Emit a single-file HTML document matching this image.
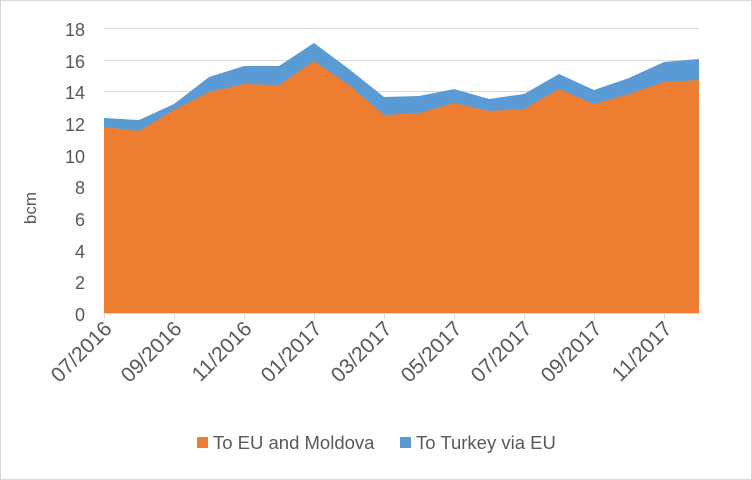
<!DOCTYPE html>
<html><head><style>
html,body{margin:0;padding:0;background:#fff}
svg{display:block}
text{font-family:"Liberation Sans",sans-serif;fill:#595959}
</style></head><body>
<svg width="752" height="480" viewBox="0 0 752 480">
<rect x="0.5" y="0.5" width="751" height="479" fill="#fff" stroke="#D9D9D9"/>
<g stroke="#D9D9D9" stroke-width="1">
<line x1="104" x2="699" y1="28.5" y2="28.5"/>
<line x1="104" x2="699" y1="60.5" y2="60.5"/>
<line x1="104" x2="699" y1="91.5" y2="91.5"/>
<line x1="104" x2="699" y1="123.5" y2="123.5"/>
<line x1="104" x2="699" y1="155.5" y2="155.5"/>
<line x1="104" x2="699" y1="186.5" y2="186.5"/>
<line x1="104" x2="699" y1="218.5" y2="218.5"/>
<line x1="104" x2="699" y1="250.5" y2="250.5"/>
<line x1="104" x2="699" y1="281.5" y2="281.5"/>
</g>
<polygon fill="#5B9BD5" points="104,313 104,118 139,120 174,104 209,77 244,66 279,66 314,43 349,69 384,97 419,96 454,89 489,99 524,94 559,74 594,90 629,78 664,62 699,59 699,313"/>
<polygon fill="#ED7D31" points="104,313 104,127 139,131 174,110 209,92 244,84 279,85 314,61 349,85 384,115 419,113 454,103 489,111 524,109 559,89 594,104 629,94 664,82 699,80 699,313"/>
<g stroke="#D9D9D9"><line x1="104" x2="699" y1="313.5" y2="313.5"/>
<line x1="104.5" x2="104.5" y1="313" y2="319"/><line x1="174.5" x2="174.5" y1="313" y2="319"/><line x1="244.5" x2="244.5" y1="313" y2="319"/><line x1="314.5" x2="314.5" y1="313" y2="319"/><line x1="384.5" x2="384.5" y1="313" y2="319"/><line x1="454.5" x2="454.5" y1="313" y2="319"/><line x1="524.5" x2="524.5" y1="313" y2="319"/><line x1="594.5" x2="594.5" y1="313" y2="319"/><line x1="664.5" x2="664.5" y1="313" y2="319"/></g>
<g font-size="18" text-anchor="end">
<text x="85" y="36">18</text><text x="85" y="68">16</text><text x="85" y="99">14</text><text x="85" y="131">12</text><text x="85" y="163">10</text><text x="85" y="194">8</text><text x="85" y="226">6</text><text x="85" y="258">4</text><text x="85" y="289">2</text><text x="85" y="321">0</text>
</g>
<text x="0" y="0" font-size="17" text-anchor="middle" transform="translate(36,208) rotate(-90)">bcm</text>
<g font-size="21" text-anchor="end">
<text transform="translate(113,330) rotate(-45)">07/2016</text>
<text transform="translate(183,330) rotate(-45)">09/2016</text>
<text transform="translate(253,330) rotate(-45)">11/2016</text>
<text transform="translate(323,330) rotate(-45)">01/2017</text>
<text transform="translate(393,330) rotate(-45)">03/2017</text>
<text transform="translate(463,330) rotate(-45)">05/2017</text>
<text transform="translate(533,330) rotate(-45)">07/2017</text>
<text transform="translate(603,330) rotate(-45)">09/2017</text>
<text transform="translate(673,330) rotate(-45)">11/2017</text>
</g>
<rect x="197" y="437" width="11" height="11" fill="#ED7D31"/>
<text x="213" y="449" font-size="18.5">To EU and Moldova</text>
<rect x="400" y="437" width="11" height="11" fill="#5B9BD5"/>
<text x="416" y="449" font-size="18.5">To Turkey via EU</text>
</svg>
</body></html>
